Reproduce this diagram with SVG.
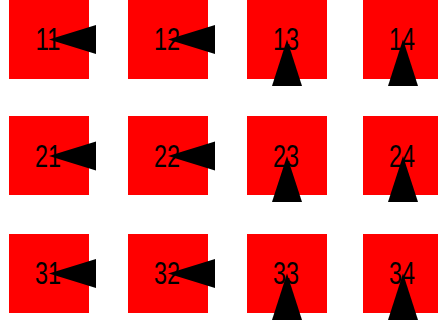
<svg xmlns="http://www.w3.org/2000/svg" width="438" height="325" viewBox="0 0 438 325">
<style>
.box{fill:#ff0000;stroke:none}
.lbl{font-family:"Liberation Sans",Arial,sans-serif;font-size:31px;fill:#000;text-anchor:middle}
.head{fill:#000;stroke:none}
</style>
<rect width="438" height="325" fill="#fff"/>
<g id="n11"><rect class="box" x="9" y="0" width="80" height="79"/><text class="lbl" x="48" y="50" textLength="25" lengthAdjust="spacingAndGlyphs">11</text></g>
<g id="n12"><rect class="box" x="128" y="0" width="80" height="79"/><text class="lbl" x="167" y="50" textLength="26" lengthAdjust="spacingAndGlyphs">12</text></g>
<g id="n13"><rect class="box" x="247" y="0" width="80" height="79"/><text class="lbl" x="286" y="50" textLength="26" lengthAdjust="spacingAndGlyphs">13</text></g>
<g id="n14"><rect class="box" x="363" y="0" width="80" height="79"/><text class="lbl" x="402" y="50" textLength="26" lengthAdjust="spacingAndGlyphs">14</text></g>
<g id="n21"><rect class="box" x="9" y="116" width="80" height="79"/><text class="lbl" x="48" y="167" textLength="26" lengthAdjust="spacingAndGlyphs">21</text></g>
<g id="n22"><rect class="box" x="128" y="116" width="80" height="79"/><text class="lbl" x="167" y="167" textLength="26" lengthAdjust="spacingAndGlyphs">22</text></g>
<g id="n23"><rect class="box" x="247" y="116" width="80" height="79"/><text class="lbl" x="286" y="167" textLength="26" lengthAdjust="spacingAndGlyphs">23</text></g>
<g id="n24"><rect class="box" x="363" y="116" width="80" height="79"/><text class="lbl" x="402" y="167" textLength="26" lengthAdjust="spacingAndGlyphs">24</text></g>
<g id="n31"><rect class="box" x="9" y="234" width="80" height="79"/><text class="lbl" x="48" y="284" textLength="26" lengthAdjust="spacingAndGlyphs">31</text></g>
<g id="n32"><rect class="box" x="128" y="234" width="80" height="79"/><text class="lbl" x="167" y="284" textLength="26" lengthAdjust="spacingAndGlyphs">32</text></g>
<g id="n33"><rect class="box" x="247" y="234" width="80" height="79"/><text class="lbl" x="286" y="284" textLength="26" lengthAdjust="spacingAndGlyphs">33</text></g>
<g id="n34"><rect class="box" x="363" y="234" width="80" height="79"/><text class="lbl" x="402" y="284" textLength="26" lengthAdjust="spacingAndGlyphs">34</text></g>
<g id="connectors">
<polygon class="head" points="49,39.5 96,25 96,54"/>
<polygon class="head" points="168,39.5 215,25 215,54"/>
<polygon class="head" points="287,39.5 272,86 302,86"/>
<polygon class="head" points="403,39.5 388,86 418,86"/>
<polygon class="head" points="49,156 96,141.5 96,170.5"/>
<polygon class="head" points="168,156 215,141.5 215,170.5"/>
<polygon class="head" points="287,156 272,202 302,202"/>
<polygon class="head" points="403,156 388,202 418,202"/>
<polygon class="head" points="49,273.5 96,259 96,288"/>
<polygon class="head" points="168,273.5 215,259 215,288"/>
<polygon class="head" points="287,273.5 272,320 302,320"/>
<polygon class="head" points="403,273.5 388,320 418,320"/>
</g>
</svg>
